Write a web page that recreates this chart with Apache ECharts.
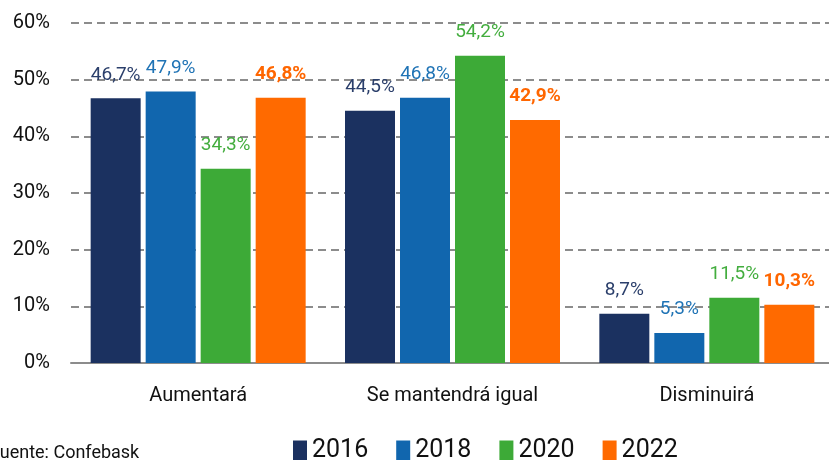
<!DOCTYPE html>
<html>
<head>
<meta charset="utf-8">
<script src="https://cdn.jsdelivr.net/npm/echarts@6/dist/echarts.min.js"></script>
<style>
  html, body { margin: 0; padding: 0; background: #fff; }
  #chart { width: 829px; height: 460px; }
</style>
</head>
<body>
<div id="chart"></div>
<script>
const categories = ['Aumentará', 'Se mantendrá igual', 'Disminuirá'];
const years = ['2016', '2018', '2020', '2022'];
const v2016 = [46.7, 44.5, 8.7];
const v2018 = [47.9, 46.8, 5.3];
const v2020 = [34.3, 54.2, 11.5];
const v2022 = [46.8, 42.9, 10.3];
const yTicks = [0, 10, 20, 30, 40, 50, 60];

const FONT = 'Roboto, "Open Sans", sans-serif';
const barColors = ['#1b3160', '#1166ae', '#3daa37', '#ff6a00'];
const labelColors = ['#2b3f6b', '#1f73b5', '#43ad3e', '#ff6600'];
const seriesData = [v2016, v2018, v2020, v2022];

const myChart = echarts.init(document.getElementById('chart'));

const series = years.map((y, i) => ({
    name: y,
    type: 'bar',
    data: seriesData[i],
    barWidth: 50,
    barGap: '10%',
    itemStyle: { color: barColors[i] },
    label: {
        show: true,
        position: 'top',
        distance: 14,
        color: labelColors[i],
        fontFamily: FONT,
        fontSize: 19,
        fontWeight: i === 3 ? 'bold' : 'normal',
        formatter: p => p.value.toFixed(1).replace('.', ',') + '%'
    }
}));

myChart.setOption({
    animation: false,
    backgroundColor: '#fff',
    textStyle: { fontFamily: FONT },
    grid: { left: 71, top: 23, width: 763, height: 340, outerBoundsMode: 'none', containLabel: false },
    legend: {
        data: years,
        top: 433,
        left: 288,
        itemWidth: 14,
        itemHeight: 20,
        itemGap: 28,
        icon: 'rect',
        textStyle: { fontFamily: FONT, fontSize: 25, color: '#111' }
    },
    xAxis: {
        type: 'category',
        data: categories,
        axisTick: { show: false },
        axisLine: { lineStyle: { color: '#8c8c8c', width: 2 } },
        axisLabel: { color: '#111', fontSize: 20, fontFamily: FONT, margin: 23 }
    },
    yAxis: {
        type: 'value',
        min: yTicks[0],
        max: yTicks[yTicks.length - 1],
        interval: 10,
        axisLine: { show: false },
        axisTick: { show: false },
        axisLabel: { color: '#111', fontSize: 20, fontFamily: FONT, margin: 21, formatter: '{value}%' },
        splitLine: { lineStyle: { color: '#8c8c8c', width: 2, type: [8, 5] } }
    },
    graphic: [{
        type: 'text',
        left: -10,
        top: 444,
        style: { text: 'Fuente: Confebask', fill: '#111', font: '18px ' + FONT }
    }],
    series: series
});
</script>
</body>
</html>
